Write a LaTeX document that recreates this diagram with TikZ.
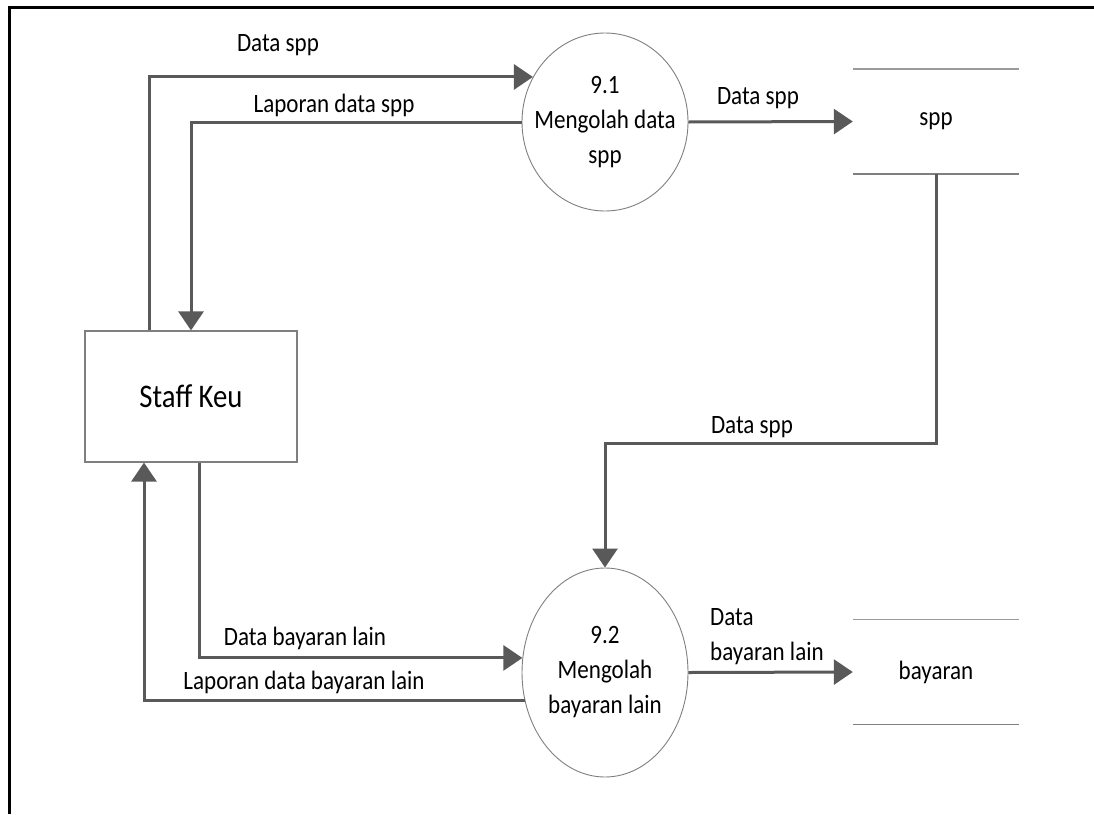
\documentclass[tikz,border=0pt]{standalone}
\usepackage{fontspec}
\setmainfont{Carlito}[FakeStretch=0.87]
\usetikzlibrary{shapes.geometric, arrows.meta, positioning, calc}
\definecolor{flowgray}{HTML}{595959}
\definecolor{edgegray}{HTML}{7F7F7F}
\definecolor{storegray}{HTML}{9A9A9A}
\tikzset{
    entity/.style={rectangle, draw=edgegray, line width=1.2pt, minimum width=212pt, minimum height=131pt, font=\fontsize{33}{38}\selectfont},
    process/.style={ellipse, draw=edgegray, line width=0.9pt, inner sep=0pt, minimum width=166pt},
    proctext/.style={align=center, inner sep=0pt, font=\fontsize{26.5}{35}\selectfont},
    store/.style={rectangle, minimum width=166pt, minimum height=105pt, font=\fontsize{26.5}{30}\selectfont},
    storeline/.style={draw=storegray, line width=1.5pt},
    flowlabel/.style={inner sep=0pt, font=\fontsize{26.5}{35}\selectfont},
    arrow/.style={draw=flowgray, line width=3pt, -{Triangle[length=19pt,width=25pt]}}
}

\begin{document}
\begin{tikzpicture}[x=1pt, y=-1pt]
    \useasboundingbox (0,0) rectangle (1094,814);
    \draw [line width=3pt] (9,814) -- (9,7) -- (1094,7);

    \node (staff) [entity] at (191,396.5) {Staff Keu};
    \node (p1) [process, minimum height=178pt] at (605,122) {};
    \node (p1text) [proctext] at (p1.center) {9.1\\Mengolah data\\spp};
    \node (p2) [process, minimum height=209pt] at (605,672.5) {};
    \node (p2text) [proctext] at (p2.center) {9.2\\Mengolah\\bayaran lain};
    \node (spp) [store] at (936,121.5) {spp};
    \node (bayaran) [store] at (936,672) {bayaran};
    \draw [storeline] (spp.north west) -- (spp.north east);
    \draw [storeline, draw=edgegray] (spp.south west) -- (spp.south east);
    \draw [storeline] (bayaran.north west) -- (bayaran.north east);
    \draw [storeline, draw=edgegray] (bayaran.south west) -- (bayaran.south east);

    \draw [arrow] ([xshift=-42pt]staff.north) |- (p1.148);
    \draw [arrow] (p1.west) -| (staff.north);
    \draw [arrow] (p1.east) -- (spp.west);
    \draw [arrow] (spp.south) -- ++(0,269) -| (p2.north);
    \draw [arrow] ([xshift=8pt]staff.south) |- (p2.170);
    \draw [arrow] (p2.199) -| ([xshift=-47pt]staff.south);
    \draw [arrow] (p2.east) -- (bayaran.west);

    \node (l1) [flowlabel] at (278,45) {Data spp};
    \node (l2) [flowlabel] at (334,105) {Laporan data spp};
    \node (l3) [flowlabel] at (758,98) {Data spp};
    \node (l4) [flowlabel] at (752,427) {Data spp};
    \node (l5) [flowlabel] at (305,638) {Data bayaran lain};
    \node (l6) [flowlabel] at (304,682) {Laporan data bayaran lain};
    \node (l7) [flowlabel, align=left, anchor=west] at (710,637) {Data\\bayaran lain};
\end{tikzpicture}
\end{document}
